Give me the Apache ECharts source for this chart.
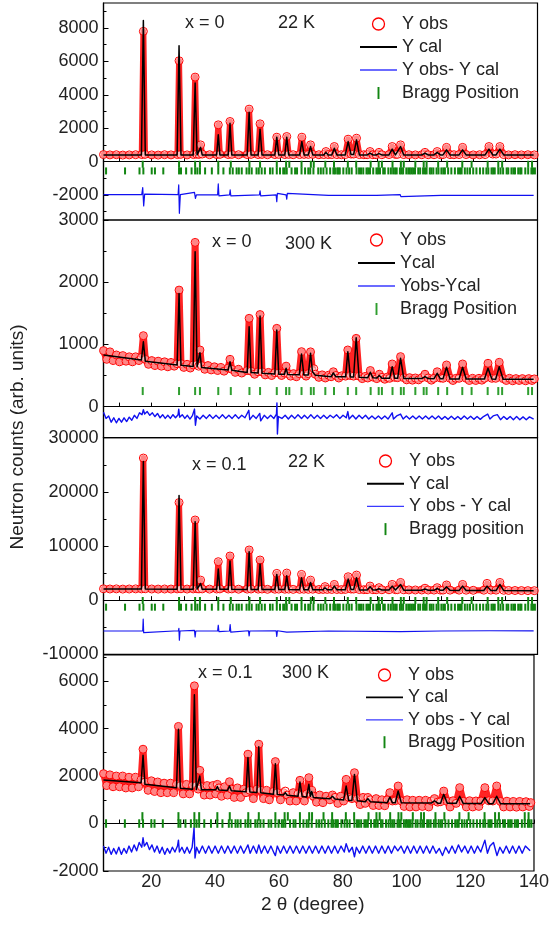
<!DOCTYPE html>
<html>
<head>
<meta charset="utf-8">
<title>Neutron diffraction refinement</title>
<script src="https://cdn.jsdelivr.net/npm/echarts@6.0.0/dist/echarts.min.js"></script>
<style>
html, body { margin: 0; padding: 0; background: #fff; }
#main { width: 552px; height: 928px; }
</style>
</head>
<body>
<div id="main"></div>
<script>
// 数据：从图上读出的 [2theta, counts]

// x = 0, 22 K
var obs1 = [[5,420],[7,400],[9,410],[11,390],[13,400],[15,410],[16.9,420],[17.4,7800],[17.9,430],[20,400],[22,390],[24,410],[26,400],[28.0,420],[28.5,6040],[29.0,430],[31,400],[33.0,420],[33.5,5060],[34.0,440],[34.7,430],[35.2,1000],[35.7,450],[38,410],[40.2,420],[40.7,2200],[41.2,430],[43.8,420],[44.35,2400],[44.9,430],[47,410],[49.7,420],[50.3,3140],[50.9,430],[53.1,420],[53.7,2260],[54.3,430],[56,410],[58.3,420],[58.9,1460],[59.5,430],[61.4,420],[62.0,1500],[62.6,430],[64,410],[66.0,420],[66.7,1460],[67.4,430],[68.7,430],[69.4,1000],[70.1,430],[72,410],[73.5,420],[74.2,600],[74.9,420],[76.0,420],[76.8,900],[77.6,420],[79,410],[80.2,420],[81.1,1340],[82.0,450],[82.8,450],[83.7,1400],[84.6,420],[86,410],[87.0,410],[87.9,600],[88.8,410],[89.8,410],[90.7,550],[91.6,410],[93.8,420],[94.8,900],[95.8,430],[96.4,430],[97.4,1000],[98.4,420],[100,410],[102,400],[104,410],[105,550],[106,410],[107.8,410],[108.8,600],[109.8,410],[110.6,420],[111.7,850],[112.8,420],[114,410],[115.6,420],[116.7,850],[117.8,420],[120,400],[122,410],[123.7,420],[124.9,900],[126.1,450],[127.1,450],[128.3,900],[129.5,420],[131,400],[133,410],[135,400],[137,410],[139,400]];
var cal1 = [[5,400],[16.8,400],[17.4,8450],[18.0,400],[27.9,400],[28.5,6940],[29.1,400],[32.9,400],[33.5,4700],[34.1,400],[34.7,400],[35.2,850],[35.7,400],[40.2,400],[40.7,1600],[41.2,400],[43.8,400],[44.35,2300],[44.9,400],[49.7,400],[50.3,2960],[50.9,400],[53.1,400],[53.7,1940],[54.3,400],[58.3,400],[58.9,1460],[59.5,400],[61.4,400],[62.0,1460],[62.6,400],[66.0,400],[66.7,1200],[67.4,400],[68.7,400],[69.4,900],[70.1,400],[73.5,400],[74.2,550],[74.9,400],[76.0,400],[76.8,800],[77.6,400],[80.2,400],[81.1,1200],[82.0,420],[82.8,420],[83.7,1300],[84.6,400],[87.0,400],[87.9,500],[88.8,400],[89.8,400],[90.7,480],[91.6,400],[93.8,400],[94.8,750],[95.8,400],[96.4,400],[97.4,900],[98.4,400],[104,400],[105,500],[106,400],[107.8,400],[108.8,550],[109.8,400],[110.6,400],[111.7,700],[112.8,400],[115.6,400],[116.7,700],[117.8,400],[123.7,400],[124.9,750],[126.1,400],[127.1,400],[128.3,750],[129.5,400],[138.8,400]];
var dif1 = [[5,-1980],[16.9,-1980],[17.2,-1560],[17.5,-2660],[17.8,-1950],[28.2,-1980],[28.4,-1400],[28.6,-3100],[28.9,-1980],[33.3,-1850],[33.6,-2200],[33.9,-1990],[40.5,-1990],[40.7,-1340],[40.9,-2050],[44.2,-2000],[44.4,-1700],[44.6,-2050],[53.5,-2000],[53.7,-1750],[53.9,-2050],[58.7,-2000],[58.9,-2400],[59.1,-1900],[61.8,-2000],[62.0,-2250],[62.2,-1900],[75,-2020],[90,-2030],[97.3,-1980],[97.5,-2100],[110,-2030],[138.8,-2030]];

// x = 0, 300 K
var obs2 = [[5,900],[6,760],[7,880],[8,740],[9,830],[10,720],[11,820],[12,730],[13,800],[14,720],[15,800],[16,740],[16.8,790],[17.4,1140],[18.0,760],[19,680],[20,740],[21,660],[22,730],[23,650],[24,720],[25,640],[26,710],[27,650],[27.9,690],[28.5,1873],[29.1,690],[30,630],[31,680],[32,620],[32.9,670],[33.5,2640],[34.1,680],[34.6,650],[35.0,910],[35.5,660],[36.5,600],[37.5,660],[38.5,590],[39.5,640],[40.5,580],[41.5,630],[42.5,570],[43.8,620],[44.35,760],[44.9,600],[46,550],[47,600],[48,540],[49.7,580],[50.3,1419],[50.9,570],[52,520],[53.1,560],[53.7,1480],[54.3,560],[55.3,510],[56.3,550],[57.3,500],[58.3,545],[58.9,1258],[59.5,540],[60.4,500],[61.3,540],[61.8,650],[62.3,530],[63.2,490],[64.1,530],[65,480],[65.9,530],[66.6,883],[67.3,525],[68,490],[68.7,530],[69.4,880],[70.0,580],[70.4,610],[70.9,520],[72,470],[73,510],[74,460],[75,505],[75.8,480],[76.5,560],[77.3,500],[78.2,460],[79.1,495],[80.3,490],[81.0,910],[81.8,500],[82.8,490],[83.6,1097],[84.5,490],[85.5,450],[86.4,485],[87.2,460],[88.0,580],[88.8,475],[90.0,450],[90.8,520],[91.6,470],[92.5,440],[93.3,475],[94.0,455],[94.8,685],[95.6,470],[96.5,465],[97.4,803],[98.4,465],[99.3,430],[100.2,465],[101.1,425],[102,460],[103,430],[104,465],[105,520],[106,460],[107,425],[107.8,455],[108.8,560],[109.8,460],[110.6,455],[111.7,669],[112.8,455],[113.7,420],[114.6,455],[115.6,455],[116.7,685],[117.8,455],[118.8,420],[119.8,455],[120.8,420],[121.8,455],[122.7,425],[123.5,455],[124.6,696],[125.8,455],[127,455],[128.1,712],[129.3,450],[130.3,420],[131.3,455],[132.3,415],[133.3,450],[134.3,420],[135.3,450],[136.3,415],[137.3,450],[138.3,420],[139,445]];
var cal2 = [[5,830],[16.8,750],[17.4,1043],[18.0,730],[27.9,670],[28.5,1820],[29.1,665],[32.9,645],[33.5,2490],[34.1,640],[34.6,640],[35.0,867],[35.5,630],[43.8,590],[44.35,722],[44.9,585],[49.7,550],[50.3,1284],[50.9,548],[53.1,540],[53.7,1456],[54.3,535],[58.3,525],[58.9,1231],[59.5,522],[61.3,520],[61.8,616],[62.3,518],[65.9,512],[66.6,846],[67.3,510],[68.7,510],[69.4,857],[70.0,560],[70.4,590],[70.9,505],[75.8,480],[76.5,540],[77.3,478],[80.3,478],[81.0,883],[81.8,476],[82.8,475],[83.6,1108],[84.5,472],[87.2,465],[88.0,552],[88.8,462],[90.0,458],[90.8,500],[91.6,455],[94.0,455],[94.8,642],[95.6,455],[96.5,455],[97.4,777],[98.4,453],[104,450],[105,482],[106,450],[107.8,448],[108.8,536],[109.8,447],[110.6,446],[111.7,632],[112.8,445],[115.6,444],[116.7,632],[117.8,444],[123.5,442],[124.6,616],[125.8,442],[127,441],[128.1,642],[129.3,441],[138.8,440]];
var dif2 = [[5,-90],[5.8,-190],[6.6,-150],[7.4,-250],[8.2,-180],[9,-260],[9.8,-190],[10.6,-250],[11.4,-180],[12.2,-240],[13,-170],[13.8,-220],[14.6,-140],[15.4,-190],[16.2,-100],[17,-130],[17.4,-50],[17.8,-120],[18.6,-80],[19.4,-140],[20.2,-100],[21,-160],[21.8,-110],[22.6,-180],[23.4,-130],[24.2,-190],[25,-140],[25.8,-190],[26.6,-130],[27.4,-180],[28.2,-130],[28.4,-40],[28.7,-170],[29.5,-130],[30.3,-190],[31.1,-140],[31.9,-200],[32.7,-140],[33.3,-40],[33.6,-300],[34,-150],[35,-200],[36,-140],[37,-190],[38,-130],[39,-190],[40,-140],[41,-190],[42,-130],[43,-190],[44,-140],[45,-190],[46,-130],[47,-190],[48,-140],[49,-180],[50.2,-60],[50.5,-210],[51.5,-140],[52.5,-190],[53.6,-110],[53.9,-230],[55,-140],[56,-190],[57,-140],[58,-190],[58.8,-120],[58.95,60],[59.1,-440],[59.4,-160],[60.5,-190],[61.5,-140],[62.5,-200],[63.5,-140],[64.5,-190],[65.5,-130],[66.6,-190],[67.5,-140],[68.5,-190],[69.5,-130],[70.5,-190],[71.5,-140],[72.5,-190],[73.5,-140],[74.5,-190],[75.5,-140],[76.5,-180],[77.5,-130],[78.5,-190],[79.5,-140],[80.5,-180],[81,-80],[81.4,-200],[82.5,-140],[83.5,-200],[84.5,-140],[85.5,-190],[86.5,-140],[87.5,-200],[88.5,-150],[89.5,-200],[90.5,-150],[91.5,-200],[92.5,-150],[93.5,-200],[94.8,-100],[95.2,-200],[96.2,-150],[97.4,-120],[98.2,-200],[99.2,-150],[100.2,-200],[101.2,-150],[102.2,-200],[103.2,-150],[104.2,-200],[105.2,-150],[106.2,-200],[107.2,-150],[108.2,-200],[109.2,-150],[110.2,-205],[111.2,-160],[112.2,-205],[113.2,-155],[114.2,-205],[115.2,-160],[116.2,-205],[117.2,-150],[118.2,-200],[119.2,-155],[120.2,-205],[121.2,-160],[122.2,-205],[123.2,-160],[124.5,-120],[125.2,-200],[126.2,-150],[127.5,-130],[128.5,-210],[129.5,-160],[130.5,-205],[131.5,-160],[132.5,-210],[133.5,-160],[134.5,-210],[135.5,-165],[136.5,-210],[137.5,-165],[138.8,-200]];

// x = 0.1, 22 K
var obs3 = [[5,2100],[7,2060],[9,2080],[11,2040],[13,2060],[15,2080],[16.8,2080],[17.4,26240],[18.0,2100],[20,2060],[22,2040],[24,2060],[26,2050],[27.9,2080],[28.5,18020],[29.1,2100],[31,2050],[32.9,2080],[33.5,14800],[34.1,2100],[34.7,2080],[35.2,3700],[35.7,2080],[38,2040],[40.2,2060],[40.7,7100],[41.2,2080],[43.8,2060],[44.35,8150],[44.9,2080],[47,2020],[49.7,2040],[50.3,9260],[50.9,2060],[53.1,2040],[53.7,7410],[54.3,2060],[56,2000],[58.3,2020],[58.9,4940],[59.5,2040],[61.4,2020],[62.0,5000],[62.6,2040],[64,1990],[66.0,2000],[66.6,4750],[67.3,2020],[68.7,2000],[69.4,3700],[70.1,2020],[72,1970],[73.3,1980],[73.9,2500],[74.6,1980],[76.0,1970],[76.8,2900],[77.6,1970],[79,1950],[80.2,1980],[81.1,4320],[82.0,2050],[82.8,2050],[83.7,4630],[84.6,1960],[86,1930],[87.0,1940],[87.9,2600],[88.8,1930],[89.8,1920],[90.7,2300],[91.6,1920],[93.8,1920],[94.8,2900],[95.8,1930],[96.4,1930],[97.4,3270],[98.4,1910],[100,1890],[102,1880],[104,1880],[105,2200],[106,1870],[107.8,1860],[108.8,2300],[109.8,1860],[110.6,1860],[111.7,2800],[112.8,1850],[115.6,1850],[116.7,2900],[117.8,1840],[120,1820],[123.3,1840],[124.3,3090],[125.5,1860],[127.1,1850],[128.3,3270],[129.5,1820],[131,1790],[133,1780],[135,1770],[137,1760],[139,1750]];
var cal3 = [[5,2040],[16.8,2040],[17.4,25610],[18.0,2040],[27.9,2030],[28.5,19320],[29.1,2030],[32.9,2020],[33.5,14500],[34.1,2020],[34.7,2020],[35.2,3090],[35.7,2010],[40.2,2000],[40.7,5740],[41.2,2000],[43.8,1990],[44.35,7220],[44.9,1990],[49.7,1980],[50.3,8950],[50.9,1980],[53.1,1970],[53.7,6670],[54.3,1970],[58.3,1960],[58.9,4750],[59.5,1960],[61.4,1950],[62.0,4500],[62.6,1950],[66.0,1940],[66.6,4130],[67.3,1940],[68.7,1930],[69.4,3270],[70.1,1930],[73.3,1920],[73.9,2300],[74.6,1920],[76.0,1910],[76.8,2590],[77.6,1910],[80.2,1900],[81.1,3890],[82.0,1950],[82.8,1950],[83.7,4130],[84.6,1890],[87.0,1880],[87.9,2470],[88.8,1880],[89.8,1870],[90.7,2100],[91.6,1870],[93.8,1860],[94.8,2590],[95.8,1860],[96.4,1850],[97.4,2900],[98.4,1850],[104,1830],[105,2050],[106,1830],[107.8,1820],[108.8,2150],[109.8,1820],[110.6,1810],[111.7,2470],[112.8,1810],[115.6,1800],[116.7,2590],[117.8,1800],[123.3,1780],[124.3,2590],[125.5,1780],[127.1,1770],[128.3,2900],[129.5,1770],[138.8,1730]];
var dif3 = [[5,-5700],[17.2,-5700],[17.35,-3520],[17.5,-6000],[17.7,-5700],[28.3,-5650],[28.45,-5200],[28.6,-7400],[28.8,-5700],[33.3,-5600],[33.5,-6800],[33.7,-5700],[40.5,-5700],[40.7,-4630],[40.9,-5800],[44.2,-5700],[44.4,-4500],[44.6,-5900],[50.1,-5650],[50.3,-6600],[50.5,-5700],[58.7,-5650],[58.9,-6700],[59.1,-5650],[62,-5900],[62.2,-5650],[75,-5700],[97.4,-5800],[110,-5700],[125,-5650],[138.8,-5680]];

// x = 0.1, 300 K
var obs4 = [[5,2100],[6,1600],[7,2050],[8,1550],[9,2000],[10,1550],[11,2000],[12,1500],[13,1950],[14,1500],[15,1950],[16,1550],[16.8,1850],[17.4,3130],[18.0,1750],[19,1400],[20,1800],[21,1350],[22,1750],[23,1300],[24,1700],[25,1300],[26,1700],[27,1300],[27.9,1650],[28.5,4090],[29.1,1600],[30,1250],[31,1650],[32,1250],[32.9,1600],[33.5,5800],[34.1,1600],[34.7,1450],[35.2,2240],[35.7,1550],[36.6,1200],[37.5,1600],[38.4,1200],[39.3,1600],[40.2,1250],[40.7,1650],[41.2,1500],[42,1150],[43,1550],[43.9,1200],[44.5,1760],[45.1,1450],[46,1100],[47,1500],[48,1100],[49,1450],[49.7,1300],[50.3,2920],[50.9,1400],[52,1050],[53.1,1450],[53.7,3340],[54.3,1400],[55.2,1050],[56.1,1400],[57,1000],[58.3,1350],[58.9,2610],[59.5,1300],[60.5,1000],[61.4,1300],[62.0,1366],[62.6,1200],[63.5,950],[64.5,1300],[65.4,950],[66.0,1250],[66.6,1820],[67.3,1200],[68,950],[68.7,1250],[69.4,1930],[69.9,1250],[70.3,1400],[70.8,1150],[71.8,900],[72.8,1200],[73.8,880],[74.8,1150],[76.0,1000],[76.8,1200],[77.6,1100],[78.5,850],[79.4,1150],[80.3,950],[81.1,1860],[81.9,1100],[82.9,1050],[83.7,2140],[84.6,1050],[85.5,800],[86.4,1100],[87.1,850],[87.9,1100],[88.7,1000],[89.6,760],[90.5,1050],[91.4,760],[92.3,1000],[93.2,750],[94,1000],[94.8,1300],[95.6,950],[96.5,960],[97.4,1580],[98.4,950],[99.3,720],[100.2,1000],[101.1,700],[102,980],[103,700],[104,980],[105,720],[106,980],[107,700],[107.8,950],[108.8,1050],[109.8,900],[110.7,920],[111.7,1366],[112.8,930],[113.7,700],[114.6,960],[115.6,850],[116.7,1510],[117.8,940],[118.8,700],[119.8,960],[120.8,700],[121.8,950],[122.7,720],[123.4,950],[124.6,1510],[125.8,960],[127.1,950],[128.3,1580],[129.5,930],[130.5,700],[131.5,940],[132.5,700],[133.5,930],[134.5,690],[135.5,930],[136.5,700],[137.5,920],[138.5,720],[139,880]];
var cal4 = [[5,1830],[16.8,1720],[17.4,2875],[18.0,1650],[27.9,1510],[28.5,3975],[29.1,1490],[32.9,1440],[33.5,5425],[34.1,1430],[34.7,1430],[35.2,2000],[35.7,1420],[40.2,1420],[40.7,1560],[41.2,1410],[43.9,1390],[44.5,1580],[45.1,1380],[49.7,1340],[50.3,2780],[50.9,1330],[53.1,1310],[53.7,3230],[54.3,1300],[58.3,1230],[58.9,2520],[59.5,1220],[61.4,1200],[62.0,1300],[62.6,1190],[66.0,1150],[66.6,1750],[67.3,1140],[68.7,1120],[69.4,1650],[69.9,1150],[70.3,1350],[70.8,1100],[76.0,1040],[76.8,1150],[77.6,1030],[80.3,990],[81.1,1580],[81.9,980],[82.9,970],[83.7,2070],[84.6,960],[87.1,920],[87.9,1050],[88.7,915],[94,880],[94.8,1110],[95.6,878],[96.5,875],[97.4,1370],[98.4,872],[107.8,860],[108.8,960],[109.8,858],[110.7,855],[111.7,1230],[112.8,853],[115.6,850],[116.7,1150],[117.8,848],[123.4,840],[124.6,1090],[125.8,838],[127.1,836],[128.3,1150],[129.5,834],[138.8,830]];
var dif4 = [[5,-950],[5.8,-1250],[6.6,-1000],[7.4,-1300],[8.2,-1050],[9,-1280],[9.8,-1000],[10.6,-1300],[11.4,-1050],[12.2,-1250],[13,-950],[13.8,-1200],[14.6,-900],[15.4,-1150],[16.2,-800],[17.0,-1000],[17.4,-600],[17.8,-950],[18.6,-800],[19.4,-1100],[20.2,-900],[21,-1200],[21.8,-950],[22.6,-1250],[23.4,-1000],[24.2,-1300],[25,-1050],[25.8,-1250],[26.6,-1000],[27.4,-1200],[28.2,-950],[28.5,-700],[28.8,-1200],[29.6,-1000],[30.4,-1250],[31.2,-1000],[32,-1250],[32.8,-1000],[33.4,-180],[33.7,-1450],[34.2,-1000],[35,-1250],[36,-950],[37,-1250],[38,-950],[39,-1250],[40,-950],[41,-1250],[42,-950],[43,-1250],[44,-950],[45,-1250],[46,-950],[47,-1250],[48,-950],[49,-1250],[50.3,-900],[51,-1250],[52,-950],[53,-1250],[53.7,-900],[54.5,-1250],[55.5,-950],[56.5,-1250],[57.5,-950],[58.5,-1250],[58.9,-1350],[59.5,-950],[60.5,-1250],[61.5,-950],[62.5,-1250],[63.5,-950],[64.5,-1250],[65.5,-950],[66.5,-1250],[67.5,-950],[68.5,-1250],[69.5,-950],[70.5,-1250],[71.5,-950],[72.5,-1250],[73.5,-950],[74.5,-1250],[75.5,-950],[76.5,-1250],[77.5,-950],[78.5,-1250],[79.5,-950],[80.5,-1200],[81.1,-850],[82,-1200],[83,-1000],[83.7,-1400],[84.3,-1000],[85.3,-1250],[86.3,-950],[87.3,-1250],[88.3,-950],[89.3,-1250],[90.3,-950],[91.3,-1250],[92.3,-950],[93.3,-1250],[94.3,-950],[95.3,-1250],[96.3,-950],[97.3,-1150],[98.3,-950],[99.3,-1250],[100.3,-950],[101.3,-1250],[102.3,-950],[103.3,-1250],[104.3,-950],[105.3,-1250],[106.3,-950],[107.3,-1250],[108.3,-950],[109.3,-1250],[110.3,-1050],[111.3,-1350],[112.3,-1000],[113.3,-1250],[114.3,-950],[115.3,-1250],[116.3,-900],[117.3,-1200],[118.3,-950],[119.3,-1250],[120.3,-950],[121.3,-1250],[122.3,-950],[123.3,-1200],[124.6,-700],[125.4,-1250],[126.2,-950],[127.3,-800],[128.4,-1350],[129.3,-1000],[130.3,-1250],[131.3,-950],[132.3,-1250],[133.3,-950],[134.3,-1250],[135.3,-950],[136.3,-1250],[137.3,-950],[138.8,-1150]];

// Bragg 位置
var braggNuc = [17.2,28.5,33.5,35.0,40.7,44.6,50.4,53.7,58.9,61.8,62.8,66.6,69.5,70.4,74.0,76.7,81.0,83.6,88.1,90.6,91.6,94.9,97.5,98.4,102.0,104.6,105.5,109.1,111.9,116.6,119.5,124.5,127.8,129.0,137.1,138.3];
var braggMag = [5.8,11.7,16.2,17.4,20.0,21.0,23.6,28.5,29.1,30.7,32.4,33.5,34.2,35.0,36.6,38.7,40.7,42.3,44.3,45.2,46.4,47.1,48.0,49.5,50.3,51.1,52.6,53.3,54.2,55.2,56.8,57.6,58.9,59.9,60.9,61.4,62.0,63.5,64.6,65.2,66.6,67.7,68.7,69.3,70.3,71.8,72.6,73.4,74.4,75.5,76.5,77.0,77.7,78.1,78.5,79.6,80.6,81.4,82.2,83.7,84.5,85.1,85.8,86.8,87.3,87.9,88.9,89.9,90.4,91.0,92.0,92.5,93.6,94.4,95.1,95.7,96.2,97.2,97.7,98.2,99.2,99.8,100.3,100.8,101.3,101.9,102.9,103.5,104.4,105.0,105.5,106.5,107.0,107.6,108.6,109.2,110.1,110.7,111.2,112.2,113.2,114.3,115.3,115.9,116.4,117.4,118.2,119.0,120.0,121.0,122.1,123.1,124.1,124.7,125.7,126.2,126.7,127.8,128.5,129.3,130.4,130.9,131.9,132.5,133.0,134.0,134.6,135.0,136.2,137.1,138.1,138.6,139.2];

// 坐标轴刻度
var xTicks = [10,20,30,40,50,60,70,80,90,100,110,120,130,140];
var xLabels = [20,40,60,80,100,120,140];

var FONT = '"Liberation Sans", Arial, sans-serif';

var panels = [
    {top: 3, height: 217, min: -3500, max: 9500,
     major: [-2000,0,2000,4000,6000,8000], minor: [-3000,-1000,1000,3000,5000,7000,9000],
     obs: obs1, cal: cal1, dif: dif1, obsW: 6, difW: 1.2,
     nucY: -160, magY: -560, tickH: 7, green: '#128612',
     names: ['Y obs', 'Y cal', 'Y obs- Y cal', 'Bragg Position'],
     leg: [360, 15, 5], label: ['x = 0', 185, 23, '22 K', 278, 23]},
    {top: 220, height: 217.7, min: -500, max: 3000,
     major: [0,1000,2000,3000], minor: [500,1500,2500],
     obs: obs2, cal: cal2, dif: dif2, obsW: 7, difW: 1.4,
     nucY: 250, magY: null, tickH: 8, green: '#2f9e2f',
     names: ['Y obs', 'Ycal', 'Yobs-Ycal', 'Bragg Position'],
     leg: [358, 231, 5], label: ['x = 0', 212, 242, '300 K', 285, 244]},
    {top: 437.7, height: 216.6, min: -10000, max: 30000,
     major: [-10000,0,10000,20000,30000], minor: [-5000,5000,15000,25000],
     obs: obs3, cal: cal3, dif: dif3, obsW: 6, difW: 1.2,
     nucY: -60, magY: -1300, tickH: 7, green: '#128612',
     names: ['Y obs', 'Y cal', 'Y obs - Y cal', 'Bragg position'],
     leg: [367, 452, 4.7], label: ['x = 0.1', 192, 465, '22 K', 288, 462]},
    {top: 655, height: 216, min: -2000, max: 7100,
     major: [-2000,0,2000,4000,6000], minor: [-1000,1000,3000,5000,7000],
     obs: obs4, cal: cal4, dif: dif4, obsW: 7, difW: 1.4,
     nucY: 300, magY: 0, tickH: 8.5, green: '#128612',
     names: ['Y obs', 'Y cal', 'Y obs - Y cal', 'Bragg Position'],
     leg: [366, 666, 4.4], label: ['x = 0.1', 198, 673, '300 K', 282, 673]}
];

var grids = [], xAxes = [], yAxes = [], series = [], legends = [], texts = [];

function toTicks(list, y) {
    return list.map(function (x) { return [x, y]; });
}

panels.forEach(function (p, i) {
    grids.push({left: 103.5, width: 434, top: p.top, height: p.height,
                show: true, borderColor: '#000', borderWidth: 1.2});

    xAxes.push({
        gridIndex: i, type: 'value', min: 5, max: 140,
        axisLine: {lineStyle: {color: '#000', width: 1.2}},
        axisTick: {inside: true, length: 4, customValues: xTicks, lineStyle: {color: '#000'}},
        axisLabel: {show: i === 3, customValues: xLabels, fontSize: 18, color: '#222',
                    fontFamily: FONT, margin: 2},
        splitLine: {show: false},
        name: i === 3 ? '2 θ (degree)' : '', nameLocation: 'middle', nameGap: 24,
        nameTextStyle: {fontSize: 19, color: '#222', fontFamily: FONT, padding: [0, 12, 0, 0]}
    });

    // 主刻度 + 标签
    yAxes.push({
        gridIndex: i, type: 'value', min: p.min, max: p.max, position: 'left',
        axisLine: {show: true, lineStyle: {color: '#000', width: 1.2}},
        axisTick: {inside: true, length: 5, customValues: p.major, lineStyle: {color: '#000'}},
        axisLabel: {customValues: p.major, fontSize: 18, color: '#222', fontFamily: FONT, margin: 5,
                    formatter: function (v) { return String(v); }},
        splitLine: {show: false}
    });
    // 次刻度
    yAxes.push({
        gridIndex: i, type: 'value', min: p.min, max: p.max, position: 'left',
        axisLine: {show: false},
        axisTick: {inside: true, length: 3, customValues: p.minor, lineStyle: {color: '#000'}},
        axisLabel: {show: false},
        splitLine: {show: false}
    });

    var yi = i * 2;
    series.push({
        name: p.names[0], type: 'line', xAxisIndex: i, yAxisIndex: yi, data: p.obs,
        symbol: 'circle', symbolSize: 8, showAllSymbol: true, z: 2,
        itemStyle: {color: 'rgba(255,255,255,0.45)', borderColor: '#ff0000', borderWidth: 1},
        lineStyle: {color: '#ff2424', width: p.obsW, join: 'round', cap: 'round'}
    });
    series.push({
        name: p.names[1], type: 'line', xAxisIndex: i, yAxisIndex: yi, data: p.cal,
        symbol: 'none', z: 4,
        lineStyle: {color: '#000', width: 1.5, join: 'round'}
    });
    series.push({
        name: p.names[2], type: 'line', xAxisIndex: i, yAxisIndex: yi, data: p.dif,
        symbol: 'none', z: 3,
        lineStyle: {color: '#1010f0', width: p.difW, join: 'round'}
    });
    series.push({
        name: p.names[3], type: 'scatter', xAxisIndex: i, yAxisIndex: yi,
        data: toTicks(braggNuc, p.nucY), symbol: 'rect', symbolSize: [2, p.tickH], z: 3,
        itemStyle: {color: p.green, opacity: 1}
    });
    if (p.magY !== null) {
        series.push({
            name: p.names[3], type: 'scatter', xAxisIndex: i, yAxisIndex: yi,
            data: toTicks(braggMag, p.magY), symbol: 'rect', symbolSize: [2, p.tickH], z: 3,
            itemStyle: {color: p.green, opacity: 1}
        });
    }

    legends.push({
        orient: 'vertical', left: p.leg[0], top: p.leg[1], itemGap: p.leg[2], padding: 0,
        itemWidth: 37, itemHeight: 12, selectedMode: false,
        textStyle: {fontSize: 18, color: '#222', fontFamily: FONT, lineHeight: 18},
        data: [
            {name: p.names[0], icon: 'circle', itemStyle: {color: '#fff', borderColor: '#ff0000', borderWidth: 1.3}},
            {name: p.names[1], icon: 'path://M0,0H40V2H0Z', itemStyle: {color: '#000', borderWidth: 0}},
            {name: p.names[2], icon: 'path://M0,0H40V1.4H0Z', itemStyle: {color: '#3a3aff', borderWidth: 0}},
            {name: p.names[3], icon: 'path://M0,0H1.6V10H0Z', itemStyle: {color: p.green, borderWidth: 0}}
        ]
    });

    for (var k = 0; k < p.label.length; k += 3) {
        texts.push({
            type: 'text', x: p.label[k + 1], y: p.label[k + 2],
            style: {text: p.label[k], fill: '#222', font: '18px ' + FONT,
                    textAlign: 'left', textVerticalAlign: 'middle'}
        });
    }
});

texts.push({
    type: 'text', x: 18, y: 437, rotation: Math.PI / 2,
    style: {text: 'Neutron counts (arb. units)', fill: '#222', font: '19px ' + FONT,
            textAlign: 'center', textVerticalAlign: 'middle'}
});

var option = {
    backgroundColor: '#fff',
    animation: false,
    textStyle: {fontFamily: FONT},
    grid: grids,
    xAxis: xAxes,
    yAxis: yAxes,
    legend: legends,
    graphic: texts,
    series: series
};

var myChart = echarts.init(document.getElementById('main'));
myChart.setOption(option);
</script>
</body>
</html>
